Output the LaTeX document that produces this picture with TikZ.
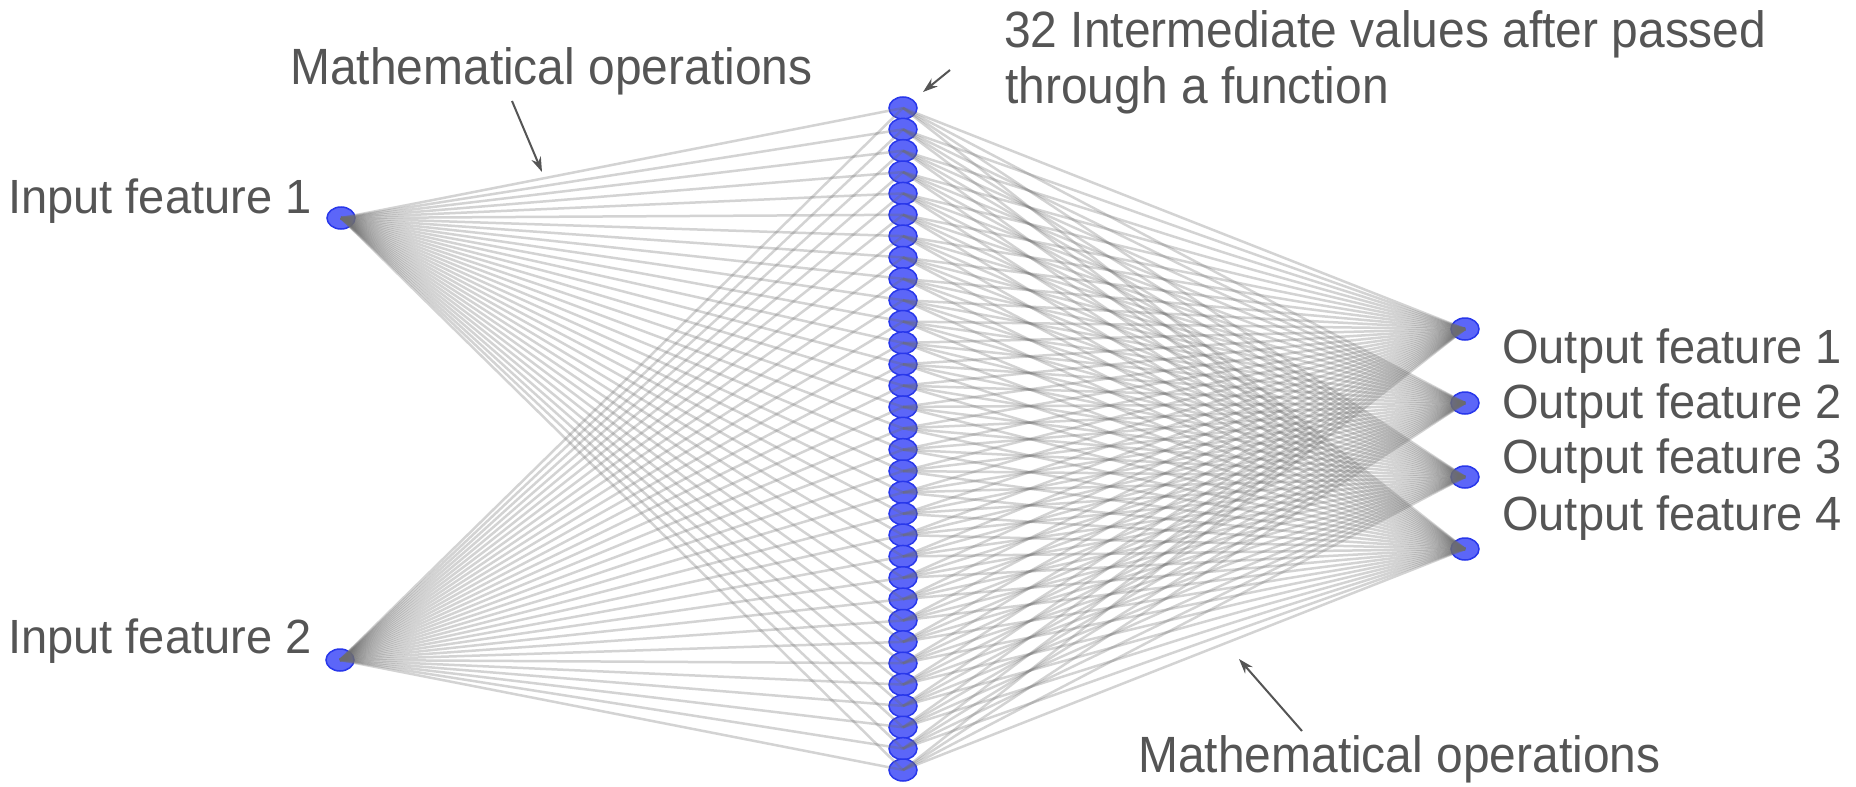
\documentclass[tikz,border=0pt]{standalone}
\usepackage{fontspec}
\usepackage{graphicx}
\setmainfont{Liberation Sans}
\usetikzlibrary{arrows.meta,shapes.geometric}
\definecolor{txt}{RGB}{85,85,85}
\definecolor{nfill}{RGB}{92,102,248}
\definecolor{nedge}{RGB}{40,55,235}
\definecolor{edgec}{RGB}{110,110,110}
\newcommand{\narrowtxt}[1]{\scalebox{0.94}[1]{#1}}
\newcommand{\feattxt}[1]{\scalebox{0.98}[1]{#1}}
\begin{document}
\begin{tikzpicture}[x=1pt,y=-1pt,
  neuron/.style={ellipse, draw=nedge, fill=nfill, line width=1.5pt, minimum width=28pt, minimum height=22pt, inner sep=0pt},
  link/.style={draw=edgec, draw opacity=0.3, line width=2.5pt},
  lbl/.style={anchor=base west, inner sep=0pt, text=txt, font=\fontsize{48}{56}\selectfont},
  toplbl/.style={lbl, font=\fontsize{51}{60}\selectfont},
  pointer/.style={draw=txt, line width=2pt, -{Stealth[length=15pt,width=10pt]}}]
\useasboundingbox (0,0) rectangle (1856,787);
\fill[white] (0,0) rectangle (1856,787);
% neurons
\node[neuron] (i1) at (341,218) {};
\node[neuron] (i2) at (340,660) {};
\foreach \k in {1,...,32} \node[neuron] (h\k) at (903,{108+(\k-1)*21.3548}) {};
\node[neuron] (o1) at (1465,329) {};
\node[neuron] (o2) at (1465,403) {};
\node[neuron] (o3) at (1465,477) {};
\node[neuron] (o4) at (1465,549) {};
% links
\foreach \k in {1,...,32}{
  \foreach \i in {1,2} \draw[link] (i\i.center) -- (h\k.center);
  \foreach \o in {1,...,4} \draw[link] (h\k.center) -- (o\o.center);
}
% labels
\node[lbl] (in1) at (8,213) {\feattxt{Input feature 1}};
\node[lbl] (in2) at (8,653) {\feattxt{Input feature 2}};
\node[lbl] (out1) at (1502,363) {\feattxt{Output feature 1}};
\node[lbl] (out2) at (1502,418) {\feattxt{Output feature 2}};
\node[lbl] (out3) at (1502,473) {\feattxt{Output feature 3}};
\node[lbl] (out4) at (1502,530) {\feattxt{Output feature 4}};
\node[toplbl] (mop1) at (290,84) {\narrowtxt{Mathematical operations}};
\node[toplbl] (hid1) at (1004,47) {\narrowtxt{32 Intermediate values after passed}};
\node[toplbl] (hid2) at (1005,103) {\narrowtxt{through a function}};
\node[toplbl] (mop2) at (1138,772) {\narrowtxt{Mathematical operations}};
% pointers
\coordinate (p1s) at (512,101);
\coordinate (p1e) at (542,172);
\coordinate (p2s) at (950,70);
\coordinate (p2e) at (923,92);
\coordinate (p3s) at (1302,731);
\coordinate (p3e) at (1239,659);
\draw[pointer] (p1s) -- (p1e);
\draw[pointer] (p2s) -- (p2e);
\draw[pointer] (p3s) -- (p3e);
\end{tikzpicture}
\end{document}
